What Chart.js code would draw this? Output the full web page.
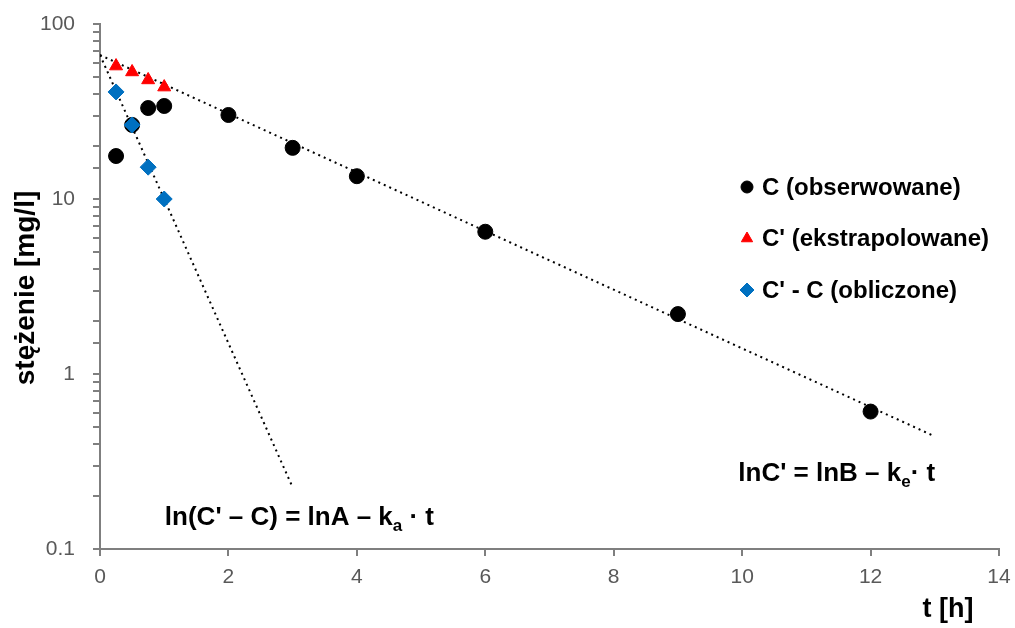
<!DOCTYPE html>
<html>
<head>
<meta charset="utf-8">
<script src="https://cdn.jsdelivr.net/npm/chart.js@4.4.1/dist/chart.umd.min.js"></script>
<style>
html,body{margin:0;padding:0;background:#fff;}
#wrap{position:relative;width:1015px;height:628px;}
</style>
</head>
<body>
<div id="wrap"><canvas id="c"></canvas></div>
<script>
// ---- data ----
const seriesNames = ["C (obserwowane)", "C' (ekstrapolowane)", "C' - C (obliczone)"];
const tObserved = [0.25, 0.5, 0.75, 1, 2, 3, 4, 6, 9, 12];
const cObserved = [17.6, 26.5, 33.1, 34.0, 30.2, 19.6, 13.5, 6.5, 2.2, 0.61];
const tExtrap = [0.25, 0.5, 0.75, 1];
const cExtrap = [57.5, 53.2, 47.9, 43.6];
const tCalc = [0.25, 0.5, 0.75, 1];
const cCalc = [40.9, 26.5, 15.2, 10.0];
// dotted trend lines (end points)
const trendElimT = [0, 13];
const trendElimC = [66.5, 0.44];
const trendAbsT = [0, 3];
const trendAbsC = [66.5, 0.225];
// axis
const xMin = 0, xMax = 14, xStep = 2;
const yMin = 0.1, yMax = 100;
const yLabelled = [0.1, 1, 10, 100];
const xTitle = "t [h]";
const yTitle = "stężenie [mg/l]";
// equation annotations: [text before subscript, subscript, text after, t, C]
const eqElim = ["lnC' = lnB – k", "e", "· t", 9.94, 0.245];
const eqAbs = ["ln(C' – C) = lnA – k", "a", " · t", 1.01, 0.137];

const pts = (xs, ys) => xs.map((x, i) => ({x: x, y: ys[i]}));

const FONT = "'Liberation Sans', Arial, sans-serif";
const AXIS_COL = '#7f7f7f';
const colors = ['#000000', '#ff0000', '#0070c0'];
const styles = ['circle', 'triangle', 'rectRot'];

const overlay = {
  id: 'overlay',
  afterDraw(chart) {
    const ctx = chart.ctx;
    const xs = chart.scales.x, ys = chart.scales.y;
    const ca = chart.chartArea;
    ctx.save();
    // legend
    const lx = ca.left + 647, ly0 = ca.top + 163, dy = 51.5;
    const radii = [6, 6.5, 7];
    seriesNames.forEach((name, i) => {
      const y = ly0 + i * dy;
      ctx.fillStyle = colors[i];
      ctx.strokeStyle = colors[i];
      ctx.lineWidth = 1;
      Chart.helpers.drawPoint(ctx, {pointStyle: styles[i], radius: radii[i], rotation: 0, borderWidth: 1}, lx, y);
      ctx.fillStyle = '#000';
      ctx.font = "bold 24px " + FONT;
      ctx.textAlign = 'left';
      ctx.textBaseline = 'middle';
      ctx.fillText(name, lx + 15, y + 1);
    });
    // equations
    const drawEq = (eq) => {
      let x = xs.getPixelForValue(eq[3]);
      const y = ys.getPixelForValue(eq[4]);
      ctx.fillStyle = '#000';
      ctx.textAlign = 'left';
      ctx.textBaseline = 'alphabetic';
      ctx.font = "bold 26px " + FONT;
      ctx.fillText(eq[0], x, y);
      x += ctx.measureText(eq[0]).width;
      ctx.font = "bold 17px " + FONT;
      ctx.fillText(eq[1], x, y + 6);
      x += ctx.measureText(eq[1]).width;
      ctx.font = "bold 26px " + FONT;
      ctx.fillText(eq[2], x, y);
    };
    drawEq(eqElim);
    drawEq(eqAbs);
    // axis titles
    ctx.font = "bold 27px " + FONT;
    ctx.textAlign = 'center';
    ctx.textBaseline = 'middle';
    ctx.fillText(xTitle, 948, 610);
    ctx.font = "bold 28px " + FONT;
    ctx.translate(26, 288);
    ctx.rotate(-Math.PI / 2);
    ctx.fillText(yTitle, 0, 0);
    ctx.restore();
  }
};

new Chart(document.getElementById('c'), {
  type: 'scatter',
  data: {
    datasets: [
      {label: 'trendElim', type: 'line', data: pts(trendElimT, trendElimC), borderColor: '#000', borderWidth: 2, borderDash: [2, 4], pointRadius: 0, fill: false, order: 5},
      {label: 'trendAbs', type: 'line', data: pts(trendAbsT, trendAbsC), borderColor: '#000', borderWidth: 2, borderDash: [2, 4], pointRadius: 0, fill: false, order: 5},
      {label: seriesNames[0], data: pts(tObserved, cObserved), pointStyle: 'circle', pointRadius: 7.5, backgroundColor: colors[0], borderColor: colors[0], order: 3},
      {label: seriesNames[1], data: pts(tExtrap, cExtrap), pointStyle: 'triangle', pointRadius: 7.5, backgroundColor: colors[1], borderColor: colors[1], order: 2},
      {label: seriesNames[2], data: pts(tCalc, cCalc), pointStyle: 'rectRot', pointRadius: 8, backgroundColor: colors[2], borderColor: colors[2], order: 1}
    ]
  },
  options: {
    responsive: true,
    maintainAspectRatio: false,
    animation: false,
    events: [],
    layout: {padding: {top: 24, right: 16, left: 0, bottom: 0}},
    plugins: {legend: {display: false}, tooltip: {enabled: false}},
    scales: {
      x: {
        type: 'linear', min: xMin, max: xMax,
        border: {color: AXIS_COL, width: 2},
        grid: {drawOnChartArea: false, drawTicks: true, tickLength: 7, color: AXIS_COL, lineWidth: 2},
        ticks: {stepSize: xStep, color: '#595959', font: {family: FONT, size: 21}, padding: 9},
        afterFit(s) { s.height = 79; s.paddingLeft = 0; s.paddingRight = 0; }
      },
      y: {
        type: 'logarithmic', min: yMin, max: yMax,
        border: {color: AXIS_COL, width: 2},
        grid: {drawOnChartArea: false, drawTicks: true, tickLength: 7, color: AXIS_COL, lineWidth: 2},
        ticks: {
          autoSkip: false, color: '#595959', font: {family: FONT, size: 21}, padding: 18,
          callback: (v) => yLabelled.some(l => Math.abs(l - v) < 1e-9) ? String(v) : ''
        },
        afterFit(s) { s.width = 100; s.paddingTop = 0; s.paddingBottom = 0; }
      }
    }
  },
  plugins: [overlay]
});
</script>
</body>
</html>
